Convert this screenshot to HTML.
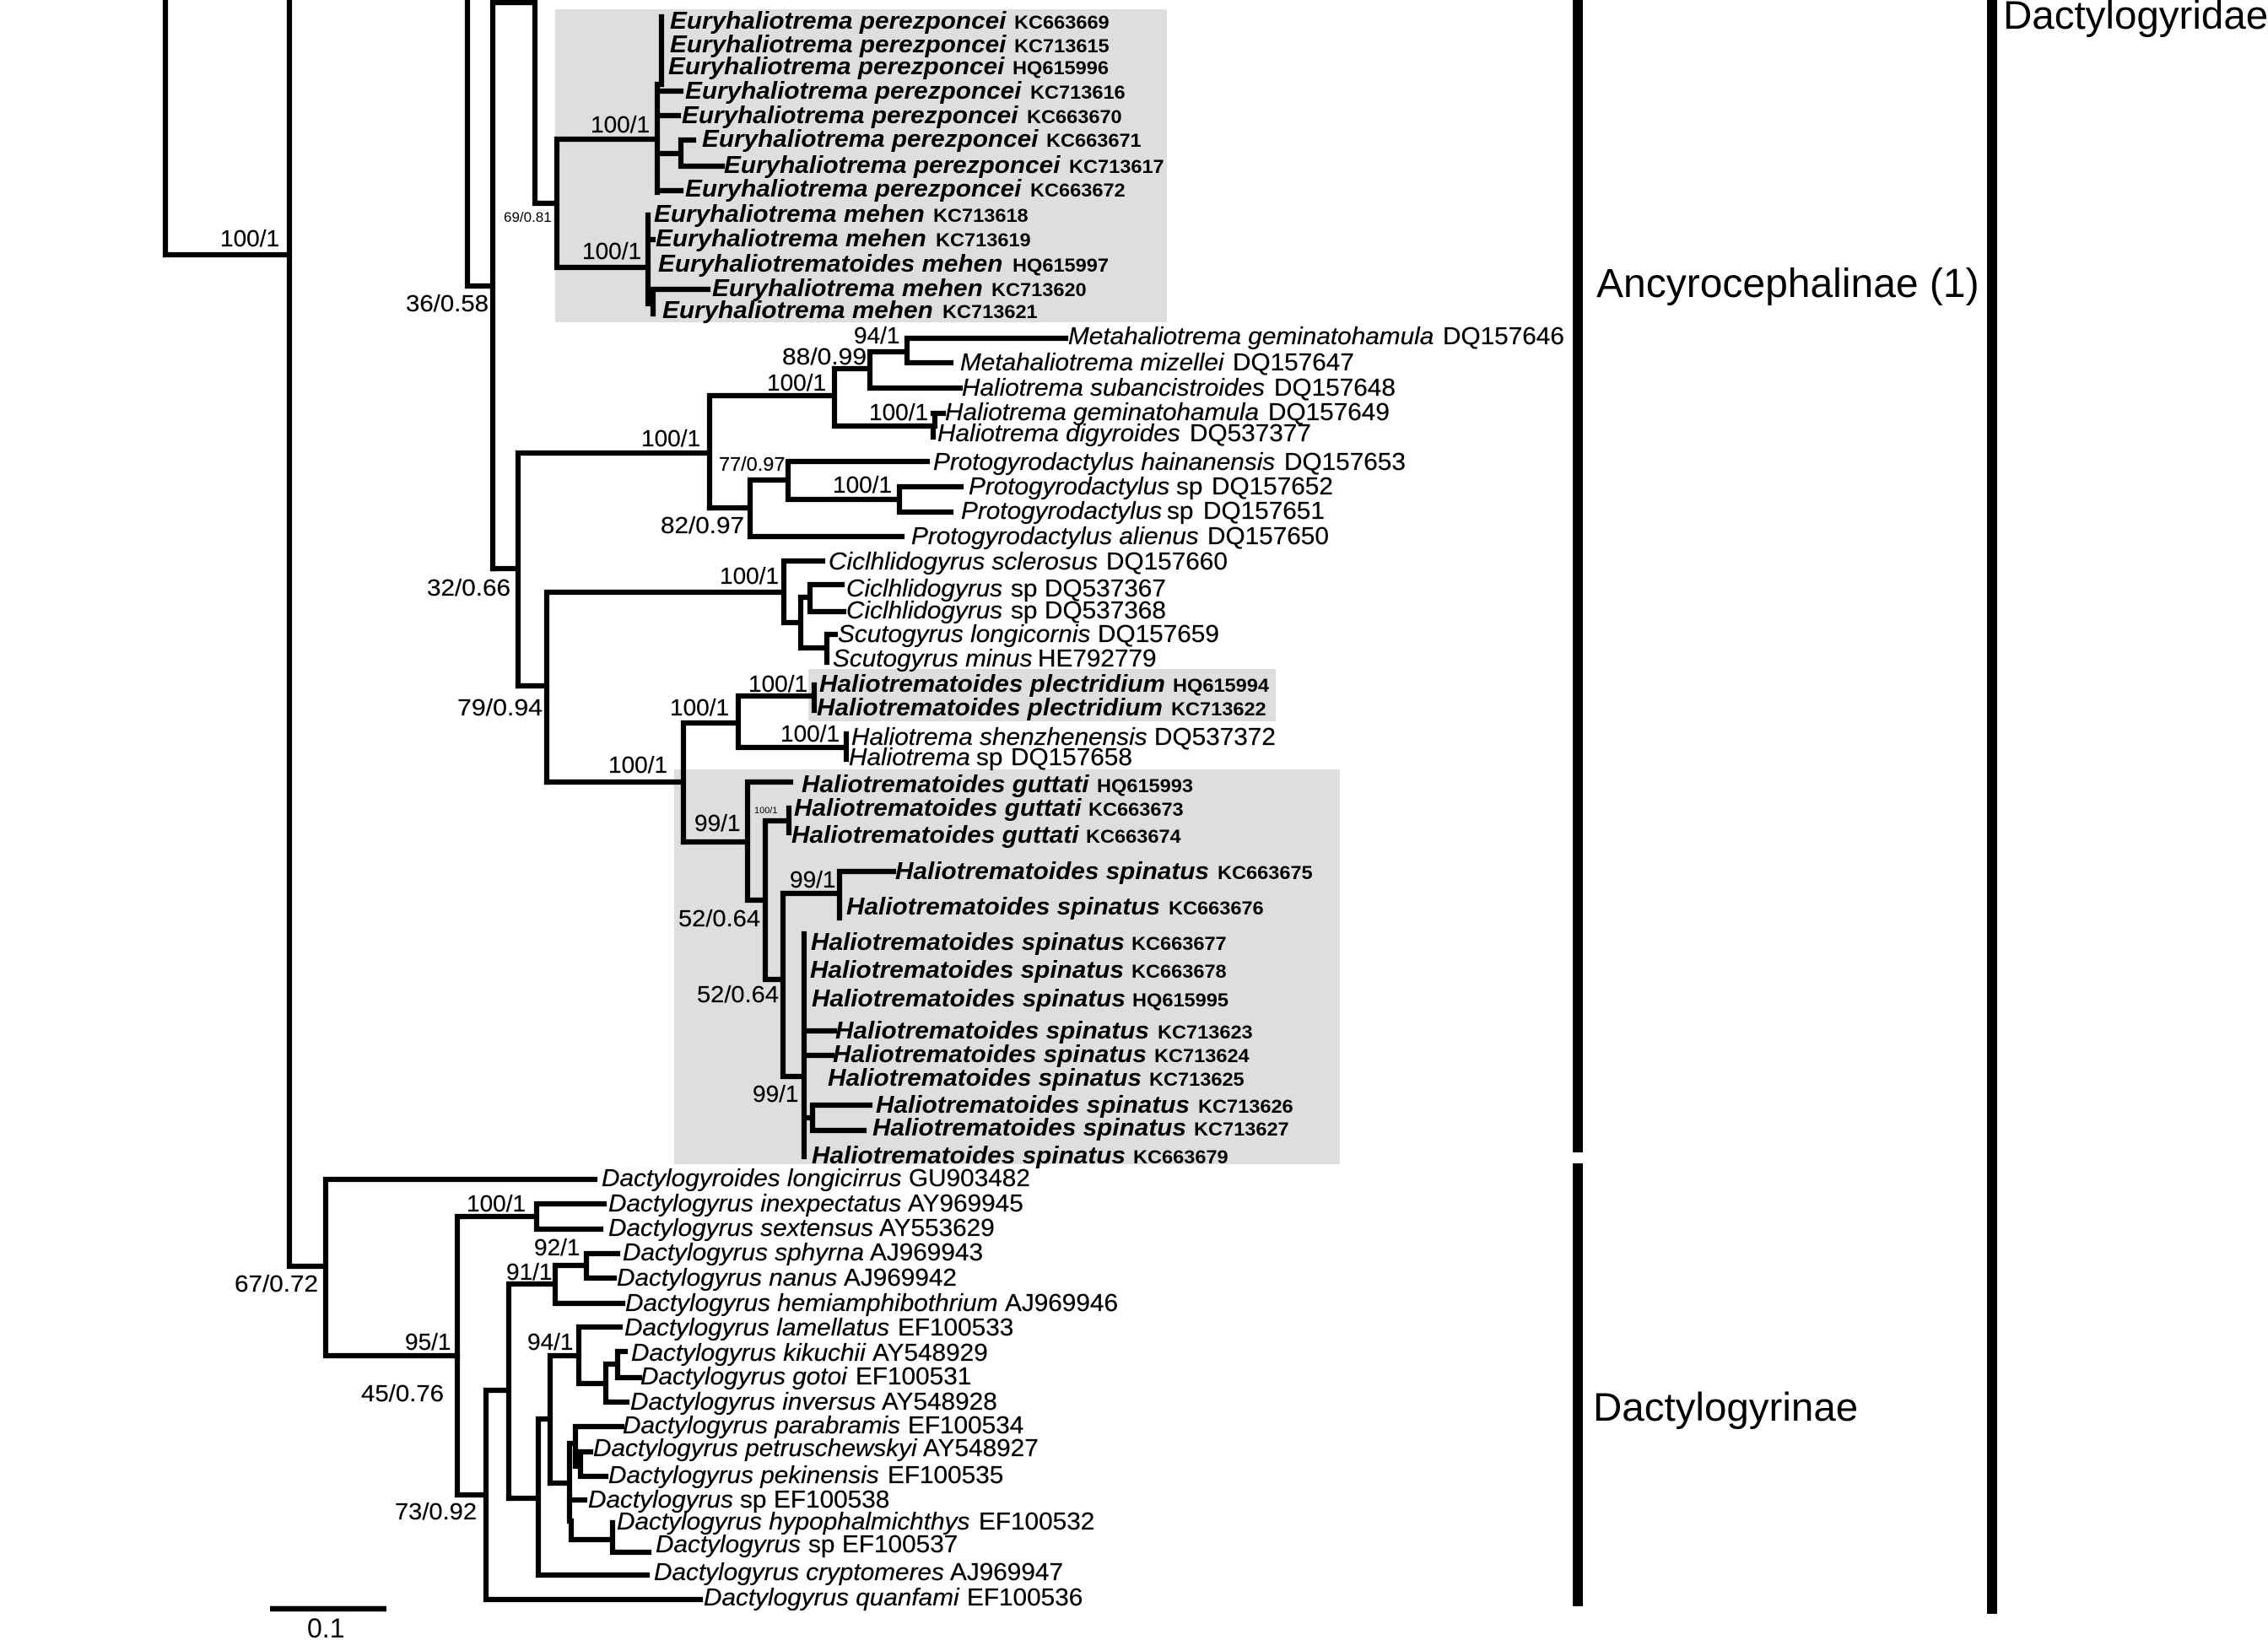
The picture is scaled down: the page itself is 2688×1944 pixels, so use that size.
<!DOCTYPE html>
<html><head><meta charset="utf-8"><title>Dactylogyridae phylogeny</title>
<style>
html,body{margin:0;padding:0;background:#fff;width:2688px;height:1944px;overflow:hidden}
svg{display:block}
text{font-family:"Liberation Sans",sans-serif;fill:#000}
.t,.a,.b,.c{transform-box:fill-box;transform-origin:0 50%;transform:scaleX(1.048)}
.t{font-size:28.4px;font-style:italic;stroke:#000;stroke-width:.25px}
.a{font-size:28.4px;stroke:#000;stroke-width:.25px}
.b{font-size:28.4px;font-style:italic;font-weight:bold}
.c{font-size:22.5px;font-weight:bold}
.l{font-size:28px;stroke:#000;stroke-width:.2px}
.h{font-size:47.5px}
</style></head><body>
<svg width="2688" height="1944" viewBox="0 0 2688 1944" xmlns="http://www.w3.org/2000/svg">
<rect width="2688" height="1944" fill="#fff"/>
<g fill="#dedede">
<rect x="658" y="11" width="725" height="371"/>
<rect x="958" y="793" width="554" height="62"/>
<rect x="799" y="912" width="789" height="468"/>
</g>
<g fill="none" stroke="#000" stroke-width="6.2" stroke-linecap="square" stroke-linejoin="miter">
<path d="M196 0V302H343M343 0V1501M343 1501H386M386 1398V1607M386 1398H705M386 1607H542"/>
<path d="M554 0V339H584M584 0V674M584 3H634M634 0V241H660M660 165V317M660 165H779M660 317H768"/>
<path d="M784 20V100M779 100V228M779 108H807M779 137H804M779 182H807M807 166V197M807 166H822M807 197H856M779 226H807"/>
<path d="M768 255V360M768 284H774M772 343H839M774 343V372"/>
<path d="M584 674H614M614 537V813M614 537H841M841 469V602M841 469H989M989 437V505M989 437H1031M1031 417V460M1031 417H1075M1075 401V430M1075 401H1263M1075 430H1127M1031 460H1138M989 505H1106M1108 490V505M1106 505V518M1106 490H1118"/>
<path d="M841 602H889M889 569V636M889 569H934M934 547V592M934 547H1099M934 592H1066M1066 577V607M1066 577H1139M1066 607H1127M889 636H1069"/>
<path d="M614 813H648M648 702V927M648 702H929M929 665V738M929 665H975M929 738H949M949 708V768M949 708H960M960 693V725M960 693H998M960 725H1000M949 768H980M980 752V785M980 752H990"/>
<path d="M648 927H810M810 857V998M810 857H875M875 825V886M875 825H965M965 812V842M875 886H1003M1003 870V900"/>
<path d="M810 998H886M886 927V1067M886 927H937M886 1067H907M907 973V1161M907 973H935M935 958V987M907 1161H928M928 1059V1276M928 1059H995M995 1033V1088M995 1033H1059M928 1276H953M953 1107V1371M953 1222H989M953 1251H986M953 1325H963M963 1310V1340M963 1310H1031M963 1340H1024"/>
<path d="M542 1442V1772M542 1442H636M636 1427V1457M636 1427H716M636 1457H712M542 1772H576M576 1648V1896M576 1896H830M576 1648H603M603 1522V1776M603 1522H658M658 1500V1545M658 1500H695M695 1486V1515M695 1486H732M695 1515H728M658 1545H738"/>
<path d="M603 1776H638M638 1682V1867M638 1867H767M638 1682H652M652 1607V1758M652 1607H686M686 1573V1640M686 1573H735M686 1640H718M718 1617V1662M718 1617H732M732 1602V1633M732 1602H741M732 1633H758M718 1662H743"/>
<path d="M652 1758H675M675 1711V1803M677 1803V1825H726M726 1805V1840H769M675 1711H682M682 1691V1738M682 1691H737M685 1721H700M688 1721V1750H718M677 1778H693"/>
<path d="M320 1907H458" stroke-width="6.5" stroke-linecap="butt"/>
</g>
<g fill="#000">
<rect x="1864" y="0" width="12" height="1366"/>
<rect x="1864" y="1379" width="12" height="525"/>
<rect x="2355" y="0" width="12" height="1913"/>
</g>

<text class="b" x="794" y="34">Euryhaliotrema perezponcei</text><text class="c" x="1202" y="34">KC663669</text>
<text class="b" x="794" y="62">Euryhaliotrema perezponcei</text><text class="c" x="1202" y="62">KC713615</text>
<text class="b" x="792" y="88">Euryhaliotrema perezponcei</text><text class="c" x="1200" y="88">HQ615996</text>
<text class="b" x="812" y="117">Euryhaliotrema perezponcei</text><text class="c" x="1221" y="117">KC713616</text>
<text class="b" x="808" y="146">Euryhaliotrema perezponcei</text><text class="c" x="1217" y="146">KC663670</text>
<text class="b" x="832" y="174">Euryhaliotrema perezponcei</text><text class="c" x="1240" y="174">KC663671</text>
<text class="b" x="858" y="205">Euryhaliotrema perezponcei</text><text class="c" x="1267" y="205">KC713617</text>
<text class="b" x="812" y="233">Euryhaliotrema perezponcei</text><text class="c" x="1221" y="233">KC663672</text>
<text class="b" x="775" y="263">Euryhaliotrema mehen</text><text class="c" x="1106" y="263">KC713618</text>
<text class="b" x="777" y="292">Euryhaliotrema mehen</text><text class="c" x="1109" y="292">KC713619</text>
<text class="b" x="780" y="322">Euryhaliotrematoides mehen</text><text class="c" x="1200" y="322">HQ615997</text>
<text class="b" x="844" y="351">Euryhaliotrema mehen</text><text class="c" x="1175" y="351">KC713620</text>
<text class="b" x="785" y="377">Euryhaliotrema mehen</text><text class="c" x="1117" y="377">KC713621</text>

<text class="t" x="1266" y="408">Metahaliotrema geminatohamula</text><text class="a" x="1710" y="408">DQ157646</text>
<text class="t" x="1138" y="439">Metahaliotrema mizellei</text><text class="a" x="1461" y="439">DQ157647</text>
<text class="t" x="1140" y="469">Haliotrema subancistroides</text><text class="a" x="1510" y="469">DQ157648</text>
<text class="t" x="1120" y="498">Haliotrema geminatohamula</text><text class="a" x="1503" y="498">DQ157649</text>
<text class="t" x="1111" y="523">Haliotrema digyroides</text><text class="a" x="1410" y="523">DQ537377</text>
<text class="t" x="1106" y="557">Protogyrodactylus hainanensis</text><text class="a" x="1522" y="557">DQ157653</text>
<text class="t" x="1148" y="586">Protogyrodactylus</text><text class="a" x="1394" y="586">sp</text><text class="a" x="1436" y="586">DQ157652</text>
<text class="t" x="1139" y="615">Protogyrodactylus</text><text class="a" x="1383" y="615">sp</text><text class="a" x="1426" y="615">DQ157651</text>
<text class="t" x="1080" y="645">Protogyrodactylus alienus</text><text class="a" x="1431" y="645">DQ157650</text>
<text class="t" x="982" y="675">Ciclhlidogyrus sclerosus</text><text class="a" x="1311" y="675">DQ157660</text>
<text class="t" x="1003" y="707">Ciclhlidogyrus</text><text class="a" x="1198" y="707">sp</text><text class="a" x="1238" y="707">DQ537367</text>
<text class="t" x="1003" y="733">Ciclhlidogyrus</text><text class="a" x="1198" y="733">sp</text><text class="a" x="1238" y="733">DQ537368</text>
<text class="t" x="993" y="761">Scutogyrus longicornis</text><text class="a" x="1301" y="761">DQ157659</text>
<text class="t" x="987" y="790">Scutogyrus minus</text><text class="a" x="1230" y="790">HE792779</text>

<text class="b" x="971" y="820">Haliotrematoides plectridium</text><text class="c" x="1390" y="820">HQ615994</text>
<text class="b" x="968" y="848">Haliotrematoides plectridium</text><text class="c" x="1388" y="848">KC713622</text>
<text class="t" x="1009" y="883">Haliotrema shenzhenensis</text><text class="a" x="1368" y="883">DQ537372</text>
<text class="t" x="1006" y="907">Haliotrema</text><text class="a" x="1157" y="907">sp</text><text class="a" x="1198" y="907">DQ157658</text>
<text class="b" x="950" y="939">Haliotrematoides guttati</text><text class="c" x="1300" y="939">HQ615993</text>
<text class="b" x="941" y="967">Haliotrematoides guttati</text><text class="c" x="1290" y="967">KC663673</text>
<text class="b" x="938" y="999">Haliotrematoides guttati</text><text class="c" x="1287" y="999">KC663674</text>
<text class="b" x="1061" y="1042">Haliotrematoides spinatus</text><text class="c" x="1443" y="1042">KC663675</text>
<text class="b" x="1003" y="1084">Haliotrematoides spinatus</text><text class="c" x="1385" y="1084">KC663676</text>
<text class="b" x="961" y="1126">Haliotrematoides spinatus</text><text class="c" x="1341" y="1126">KC663677</text>
<text class="b" x="960" y="1159">Haliotrematoides spinatus</text><text class="c" x="1341" y="1159">KC663678</text>
<text class="b" x="962" y="1193">Haliotrematoides spinatus</text><text class="c" x="1342" y="1193">HQ615995</text>
<text class="b" x="990" y="1231">Haliotrematoides spinatus</text><text class="c" x="1372" y="1231">KC713623</text>
<text class="b" x="987" y="1259">Haliotrematoides spinatus</text><text class="c" x="1368" y="1259">KC713624</text>
<text class="b" x="981" y="1287">Haliotrematoides spinatus</text><text class="c" x="1362" y="1287">KC713625</text>
<text class="b" x="1038" y="1319">Haliotrematoides spinatus</text><text class="c" x="1420" y="1319">KC713626</text>
<text class="b" x="1034" y="1346">Haliotrematoides spinatus</text><text class="c" x="1415" y="1346">KC713627</text>
<text class="b" x="962" y="1379">Haliotrematoides spinatus</text><text class="c" x="1343" y="1379">KC663679</text>

<text class="t" x="713" y="1406">Dactylogyroides longicirrus</text><text class="a" x="1077" y="1406">GU903482</text>
<text class="t" x="721" y="1436">Dactylogyrus inexpectatus</text><text class="a" x="1076" y="1436">AY969945</text>
<text class="t" x="721" y="1465">Dactylogyrus sextensus</text><text class="a" x="1042" y="1465">AY553629</text>
<text class="t" x="738" y="1494">Dactylogyrus sphyrna</text><text class="a" x="1031" y="1494">AJ969943</text>
<text class="t" x="731" y="1524">Dactylogyrus nanus</text><text class="a" x="1000" y="1524">AJ969942</text>
<text class="t" x="741" y="1554">Dactylogyrus hemiamphibothrium</text><text class="a" x="1191" y="1554">AJ969946</text>
<text class="t" x="740" y="1583">Dactylogyrus lamellatus</text><text class="a" x="1064" y="1583">EF100533</text>
<text class="t" x="748" y="1613">Dactylogyrus kikuchii</text><text class="a" x="1034" y="1613">AY548929</text>
<text class="t" x="759" y="1641">Dactylogyrus gotoi</text><text class="a" x="1014" y="1641">EF100531</text>
<text class="t" x="747" y="1671">Dactylogyrus inversus</text><text class="a" x="1045" y="1671">AY548928</text>
<text class="t" x="738" y="1699">Dactylogyrus parabramis</text><text class="a" x="1076" y="1699">EF100534</text>
<text class="t" x="703" y="1726">Dactylogyrus petruschewskyi</text><text class="a" x="1094" y="1726">AY548927</text>
<text class="t" x="721" y="1758">Dactylogyrus pekinensis</text><text class="a" x="1052" y="1758">EF100535</text>
<text class="t" x="697" y="1787">Dactylogyrus</text><text class="a" x="877" y="1787">sp</text><text class="a" x="917" y="1787">EF100538</text>
<text class="t" x="731" y="1813">Dactylogyrus hypophalmichthys</text><text class="a" x="1160" y="1813">EF100532</text>
<text class="t" x="777" y="1840">Dactylogyrus</text><text class="a" x="958" y="1840">sp</text><text class="a" x="998" y="1840">EF100537</text>
<text class="t" x="775" y="1873">Dactylogyrus cryptomeres</text><text class="a" x="1126" y="1873">AJ969947</text>
<text class="t" x="834" y="1903">Dactylogyrus quanfami</text><text class="a" x="1146" y="1903">EF100536</text>

<text class="l" x="261" y="292">100/1</text>
<text class="l" x="481" y="369" textLength="98" lengthAdjust="spacingAndGlyphs">36/0.58</text>
<text class="l" x="597" y="263" style="font-size:17px;stroke:none">69/0.81</text>
<text class="l" x="700" y="157">100/1</text>
<text class="l" x="690" y="307">100/1</text>
<text class="l" x="760" y="529">100/1</text>
<text class="l" x="852" y="558" style="font-size:23.5px">77/0.97</text>
<text class="l" x="783" y="632" textLength="99" lengthAdjust="spacingAndGlyphs">82/0.97</text>
<text class="l" x="1012" y="407">94/1</text>
<text class="l" x="927" y="432" textLength="100" lengthAdjust="spacingAndGlyphs">88/0.99</text>
<text class="l" x="909" y="463">100/1</text>
<text class="l" x="1030" y="498">100/1</text>
<text class="l" x="987" y="584">100/1</text>
<text class="l" x="853" y="692">100/1</text>
<text class="l" x="506" y="706" textLength="99" lengthAdjust="spacingAndGlyphs">32/0.66</text>
<text class="l" x="542" y="848" textLength="101" lengthAdjust="spacingAndGlyphs">79/0.94</text>
<text class="l" x="887" y="820">100/1</text>
<text class="l" x="794" y="848">100/1</text>
<text class="l" x="925" y="879">100/1</text>
<text class="l" x="721" y="916">100/1</text>
<text class="l" x="823" y="985">99/1</text>
<text class="l" x="894" y="964" style="font-size:11px;stroke:none">100/1</text>
<text class="l" x="936" y="1052">99/1</text>
<text class="l" x="804" y="1098" textLength="97" lengthAdjust="spacingAndGlyphs">52/0.64</text>
<text class="l" x="826" y="1188" textLength="97" lengthAdjust="spacingAndGlyphs">52/0.64</text>
<text class="l" x="892" y="1306">99/1</text>
<text class="l" x="278" y="1531" textLength="99" lengthAdjust="spacingAndGlyphs">67/0.72</text>
<text class="l" x="480" y="1600">95/1</text>
<text class="l" x="553" y="1436">100/1</text>
<text class="l" x="633" y="1488">92/1</text>
<text class="l" x="600" y="1517">91/1</text>
<text class="l" x="625" y="1600">94/1</text>
<text class="l" x="428" y="1661" textLength="98" lengthAdjust="spacingAndGlyphs">45/0.76</text>
<text class="l" x="468" y="1801" textLength="97" lengthAdjust="spacingAndGlyphs">73/0.92</text>
<text x="364" y="1941" style="font-size:32px">0.1</text>

<text class="h" x="1892" y="352" style="font-size:48px">Ancyrocephalinae (1)</text>
<text class="h" x="2374" y="34">Dactylogyridae</text>
<text class="h" x="1888" y="1684">Dactylogyrinae</text>
</svg>
</body></html>
